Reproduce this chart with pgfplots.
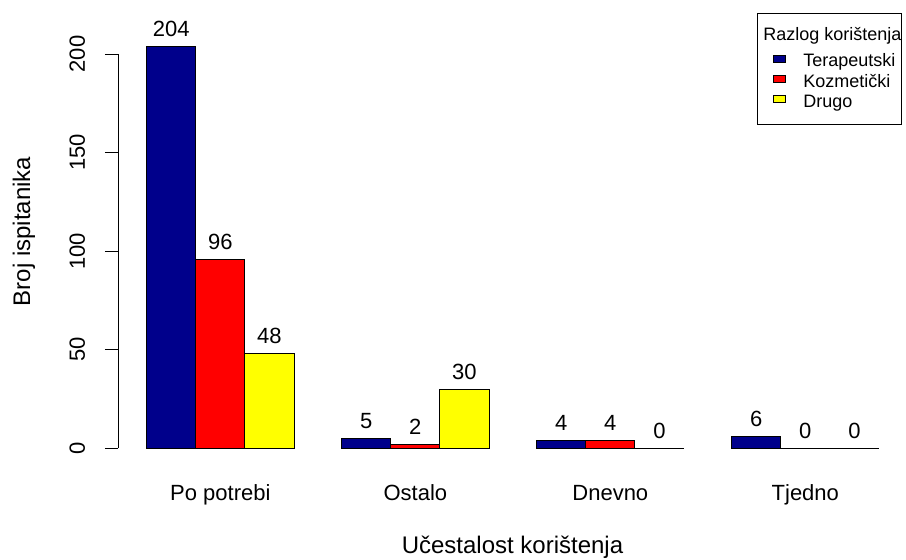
\documentclass[border=0pt]{standalone}
\usepackage{pgfplots}
\pgfplotsset{compat=1.18}
\usepackage{fontspec}
\setmainfont{Liberation Sans}
\definecolor{cT}{HTML}{00008B}
\definecolor{cK}{HTML}{FF0000}
\definecolor{cD}{HTML}{FFFF00}
\newcommand{\fs}[1]{\fontsize{#1}{#1}\selectfont}
\pgfplotsset{
  sqlegend/.style={legend image code/.code={%
    \path[draw=none,fill=none] (-16pt,-10pt) rectangle (30pt,10pt);
    \draw[##1,line width=0.8pt,draw=black] (0pt,1.6pt) rectangle (11.7pt,8.9pt);}},
}
\begin{document}
\begin{tikzpicture}
\path[use as bounding box] (0,0) rectangle (906pt,560pt);
\begin{axis}[
  at={(118pt,111.7pt)}, anchor=south west,
  scale only axis, width=788pt, height=394.3pt,
  xmin=-0.5249, xmax=3.5164, ymin=0, ymax=200,
  clip=false,
  ybar=0pt, bar width=0.2518,
  axis y line*=left, axis x line*=bottom,
  x axis line style={draw=none},
  y axis line style={line width=0.9pt},
  xtick={0,1,2,3},
  xticklabels={Po potrebi, Ostalo, Dnevno, Tjedno},
  xtick style={draw=none},
  ytick={0,50,100,150,200},
  ytick style={line width=0.9pt, black},
  tick align=outside, major tick length=13pt,
  yticklabel style={rotate=90, anchor=base, font=\fs{22}},
  yticklabel shift=20pt,
  xticklabel style={anchor=base, font=\fs{22}},
  xticklabel shift=39pt,
  /pgf/number format/assume math mode=true,
  nodes near coords,
  nodes near coords style={anchor=base, yshift=10pt, font=\fs{22}},
  xlabel={Učestalost korištenja}, ylabel={Broj ispitanika},
  xlabel style={at={(axis description cs:0.5006,-0.26554)}, anchor=base, font=\fs{24}},
  ylabel style={at={(axis description cs:-0.1114,0.55)}, anchor=base, font=\fs{24}},
  legend style={at={(axis description cs:0.8109,1.10398)}, anchor=north west,
    draw=black, line width=0.9pt, fill=white, font=\fs{18},
    inner xsep=0pt, inner ysep=10.5pt, row sep=0pt, column sep=0pt,
    nodes={inner sep=0pt, text depth=}, cells={anchor=west}},
]
\addlegendimage{empty legend}
\addlegendentry{\hspace*{-40pt}\rule[-13.9pt]{0pt}{30pt}Razlog korištenja}
\addplot[fill=cT, draw=black, line width=0.8pt, sqlegend] coordinates {(0,204) (1,5) (2,4) (3,6)};
\addlegendentry{\rule[-7pt]{0pt}{20pt}Terapeutski}
\addplot[fill=cK, draw=black, line width=0.8pt, sqlegend] coordinates {(0,96) (1,2) (2,4) (3,0)};
\addlegendentry{\rule[-7pt]{0pt}{20pt}Kozmetički}
\addplot[fill=cD, draw=black, line width=0.8pt, sqlegend] coordinates {(0,48) (1,30) (2,0) (3,0)};
\addlegendentry{\rule[-7pt]{0pt}{20pt}Drugo}
\end{axis}
\end{tikzpicture}
\end{document}
